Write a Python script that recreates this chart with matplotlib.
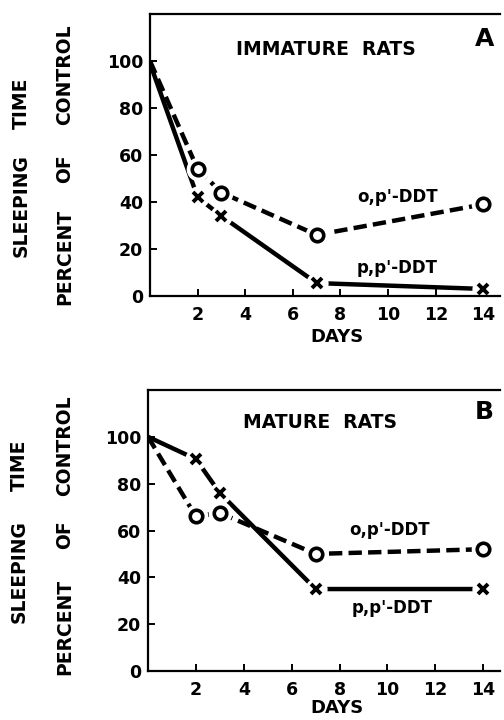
import matplotlib
matplotlib.use('Agg')
import matplotlib.pyplot as plt
import numpy as np

# days after treatment
days = [0, 2, 3, 7, 14]

# panel A: immature rats (percent of control sleeping time)
imm_op = [100, 54, 44, 26, 39]
imm_pp = [99, 42, 34, 5.5, 3]

# panel B: mature rats
mat_op = [100, 66, 67.5, 50, 52]
mat_pp = [100, 90.5, 76, 35, 35]

xticks = [2, 4, 6, 8, 10, 12, 14]
yticks = [0, 20, 40, 60, 80, 100]

W, H = 504, 720
fig = plt.figure(figsize=(W / 100, H / 100), dpi=100)
plt.rcParams['font.family'] = 'DejaVu Sans'


def px(x, y):
    return x / W, 1 - y / H


def panel(rect, op, pp, title, letter, op_xy, pp_xy, title_xy):
    ax = fig.add_axes(rect)
    ax.set_xlim(0, 14.7)
    ax.set_ylim(0, 120)
    ax.spines['right'].set_visible(False)
    for s in ['left', 'top', 'bottom']:
        ax.spines[s].set_linewidth(1.6)
    ax.set_xticks(xticks)
    ax.set_yticks(yticks)
    ax.tick_params(direction='in', length=5, width=1.4, labelsize=12.5)
    ax.tick_params(axis='x', pad=7)
    ax.tick_params(axis='y', pad=5)
    for lab in ax.get_xticklabels() + ax.get_yticklabels():
        lab.set_fontweight('bold')

    # lines
    ax.plot(days, op, color='black', lw=3.2, ls=(0, (3.0, 1.4)),
            solid_capstyle='butt', zorder=2)
    ax.plot(days, pp, color='black', lw=3.2, solid_capstyle='butt', zorder=2)
    # white gaps around markers
    ax.plot(days[1:], op[1:], ls='none', marker='o', ms=17, mfc='white',
            mec='none', zorder=2.2, clip_on=False)
    ax.plot(days[1:], pp[1:], ls='none', marker='o', ms=16, mfc='white',
            mec='none', zorder=2.2, clip_on=False)
    # markers
    ax.plot(days[1:], op[1:], ls='none', marker='o', ms=9, mfc='white',
            mec='black', mew=2.6, zorder=4, clip_on=False)
    ax.plot(days[1:], pp[1:], ls='none', marker='x', ms=7.5, mec='black',
            mew=2.8, zorder=4, clip_on=False)

    ax.text(op_xy[0], op_xy[1], "o,p'-DDT", ha='center', va='center',
            fontsize=12, fontweight='bold')
    ax.text(pp_xy[0], pp_xy[1], "p,p'-DDT", ha='center', va='center',
            fontsize=12, fontweight='bold')
    ax.text(title_xy[0], title_xy[1], title, ha='center', va='center',
            fontsize=13.5, fontweight='bold')
    ax.text(14.05, title_xy[1] + 4.5, letter, ha='center', va='center',
            fontsize=18, fontweight='bold')
    return ax


axA = panel([150 / W, 1 - 296 / H, 350 / W, 282 / H], imm_op, imm_pp,
            'IMMATURE  RATS', 'A', (10.4, 42.3), (10.4, 12), (7.4, 105))
axB = panel([148 / W, 1 - 671 / H, 352 / W, 281 / H], mat_op, mat_pp,
            'MATURE  RATS', 'B', (10.1, 60.4), (10.2, 27), (7.2, 106))

# x axis titles
fig.text(*px(337, 337), 'DAYS', ha='center', va='center', fontsize=13,
         fontweight='bold')
fig.text(*px(337, 708), 'DAYS', ha='center', va='center', fontsize=13,
         fontweight='bold')

# y axis titles, one word at a time
ylab = [
    ('SLEEPING', 21, 206), ('TIME', 21, 103),
    ('CONTROL', 65, 75), ('OF', 65, 169), ('PERCENT', 65, 257),
    ('SLEEPING', 19, 572), ('TIME', 19, 465),
    ('CONTROL', 65, 446), ('OF', 65, 535), ('PERCENT', 65, 627),
]
for word, x, y in ylab:
    fig.text(*px(x, y), word, rotation=90, ha='center', va='center',
             fontsize=13.5, fontweight='bold')

fig.savefig('out.png', dpi=100)
